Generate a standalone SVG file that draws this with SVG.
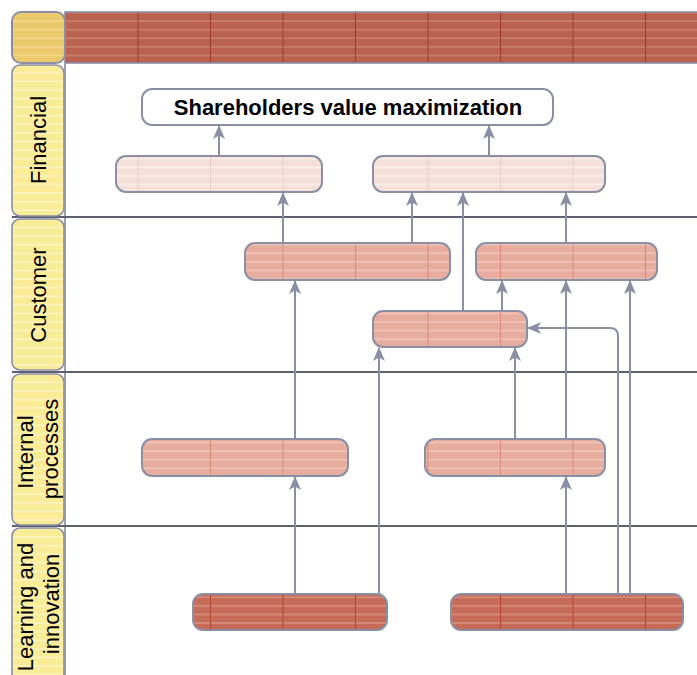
<svg xmlns="http://www.w3.org/2000/svg" width="697" height="675" viewBox="0 0 697 675">
  <style>
    .lbl { font-family: "Liberation Sans", Arial, sans-serif; font-size: 22px; fill: #000; }
    .title { font-family: "Liberation Sans", Arial, sans-serif; font-size: 22px; font-weight: bold; fill: #000; }
    .node { stroke: #8a8fa6; stroke-width: 2; }
    .cell { stroke: #8a8fa6; stroke-width: 1.6; }
    .lane { stroke: #5e6070; stroke-width: 2; }
    .conn { fill: none; stroke: #8a8fa6; stroke-width: 2; }
  </style>
  <defs>
    <!-- striped textures, vertical ticks share a common grid starting at x=65 -->
    <pattern id="pHeader" patternUnits="userSpaceOnUse" x="65" y="0" width="72.5" height="8.6">
      <rect width="72.5" height="8.6" fill="#b9624f"/>
      <rect y="3" width="72.5" height="1.8" fill="#c97e6d"/>
      <rect width="1" height="8.6" fill="#a03b2b"/>
    </pattern>
    <pattern id="pDark" patternUnits="userSpaceOnUse" x="65" y="0" width="72.5" height="8.6">
      <rect width="72.5" height="8.6" fill="#c66b58"/>
      <rect y="3" width="72.5" height="1.8" fill="#d48a7a"/>
      <rect width="1" height="8.6" fill="#b5432f"/>
    </pattern>
    <pattern id="pMid" patternUnits="userSpaceOnUse" x="65" y="0" width="72.5" height="8.6">
      <rect width="72.5" height="8.6" fill="#e7ad9e"/>
      <rect y="3" width="72.5" height="1.8" fill="#efc4b8"/>
      <rect width="1" height="8.6" fill="#db8a78"/>
    </pattern>
    <pattern id="pLight" patternUnits="userSpaceOnUse" x="65" y="0" width="72.5" height="8.6">
      <rect width="72.5" height="8.6" fill="#f6e0da"/>
      <rect y="3" width="72.5" height="1.8" fill="#faeeea"/>
      <rect width="1" height="8.6" fill="#ecd2cb"/>
    </pattern>
    <pattern id="pYellow" patternUnits="userSpaceOnUse" x="0" y="0" width="60" height="8.6">
      <rect width="60" height="8.6" fill="#fbec98"/>
      <rect y="3" width="60" height="1.8" fill="#fdf3bd"/>
    </pattern>
    <pattern id="pCorner" patternUnits="userSpaceOnUse" x="0" y="0" width="60" height="8.6">
      <rect width="60" height="8.6" fill="#ecca6c"/>
      <rect y="3" width="60" height="1.8" fill="#f2d889"/>
    </pattern>
    <marker id="arrow" markerUnits="userSpaceOnUse" viewBox="0 0 14 12" refX="13" refY="6" markerWidth="14" markerHeight="12" orient="auto">
      <path d="M0,0 L14,6 L0,12 L3.5,6 Z" fill="#8a8fa6"/>
    </marker>
  </defs>

  <rect width="697" height="675" fill="#ffffff"/>

  <!-- table frame: header band, pool column, lane separators -->
  <g id="table">
    <rect x="65" y="12" width="640" height="51" fill="url(#pHeader)" class="cell"/>
    <line x1="65" y1="63" x2="65" y2="675" stroke="#9aa0b8" stroke-width="2"/>
    <line class="lane" x1="12" y1="217" x2="697" y2="217"/>
    <line class="lane" x1="12" y1="372" x2="697" y2="372"/>
    <line class="lane" x1="12" y1="526" x2="697" y2="526"/>
    <rect x="12" y="12" width="53" height="51" rx="9" fill="url(#pCorner)" class="node"/>
  </g>

  <g id="lane-financial">
    <rect x="12" y="65" width="52" height="151" rx="8" fill="url(#pYellow)" class="cell"/>
    <text class="lbl" transform="translate(38,140) rotate(-90)" text-anchor="middle" y="8">Financial</text>
  </g>
  <g id="lane-customer">
    <rect x="12" y="219" width="52" height="151" rx="8" fill="url(#pYellow)" class="cell"/>
    <text class="lbl" transform="translate(38,295) rotate(-90)" text-anchor="middle" y="8">Customer</text>
  </g>
  <g id="lane-internal">
    <rect x="12" y="374" width="52" height="151" rx="8" fill="url(#pYellow)" class="cell"/>
    <text class="lbl" transform="translate(0,449) rotate(-90)" text-anchor="middle">
      <tspan x="0" y="33">Internal</tspan>
      <tspan x="0" y="58">processes</tspan>
    </text>
  </g>
  <g id="lane-learning">
    <rect x="12" y="528" width="52" height="160" rx="8" fill="url(#pYellow)" class="cell"/>
    <text class="lbl" transform="translate(0,604) rotate(-90)" text-anchor="middle">
      <tspan x="0" y="33">Learning and</tspan>
      <tspan x="0" y="59">innovation</tspan>
    </text>
  </g>

  <!-- objectives -->
  <g id="n-shareholders">
    <rect x="142" y="89" width="411" height="36" rx="10" fill="#ffffff" class="node"/>
    <text class="title" x="348" y="115" text-anchor="middle">Shareholders value maximization</text>
  </g>
  <g id="n-fin1"><rect x="116" y="156" width="206" height="36" rx="10" fill="url(#pLight)" class="node"/></g>
  <g id="n-fin2"><rect x="373" y="156" width="232" height="36" rx="10" fill="url(#pLight)" class="node"/></g>
  <g id="n-cust1"><rect x="245" y="243" width="205" height="37" rx="10" fill="url(#pMid)" class="node"/></g>
  <g id="n-cust2"><rect x="476" y="243" width="181" height="37" rx="10" fill="url(#pMid)" class="node"/></g>
  <g id="n-cust3"><rect x="373" y="311" width="154" height="36" rx="10" fill="url(#pMid)" class="node"/></g>
  <g id="n-int1"><rect x="142" y="439" width="206" height="37" rx="10" fill="url(#pMid)" class="node"/></g>
  <g id="n-int2"><rect x="425" y="439" width="180" height="37" rx="10" fill="url(#pMid)" class="node"/></g>
  <g id="n-learn1"><rect x="193" y="594" width="194" height="36" rx="10" fill="url(#pDark)" class="node"/></g>
  <g id="n-learn2"><rect x="451" y="594" width="232" height="36" rx="10" fill="url(#pDark)" class="node"/></g>

  <!-- cause-and-effect links -->
  <g id="connectors" class="conn" marker-end="url(#arrow)">
    <path d="M219,156 V126"/>
    <path d="M489,156 V126"/>
    <path d="M283,243 V193"/>
    <path d="M412,243 V193"/>
    <path d="M463,311 V193"/>
    <path d="M566,243 V193"/>
    <path d="M502,311 V281"/>
    <path d="M295,439 V281"/>
    <path d="M566,439 V281"/>
    <path d="M630,594 V281"/>
    <path d="M379,594 V348"/>
    <path d="M515,439 V348"/>
    <path d="M618,594 V336 Q618,328 610,328 H528"/>
    <path d="M295,594 V477"/>
    <path d="M566,594 V477"/>
  </g>
</svg>
